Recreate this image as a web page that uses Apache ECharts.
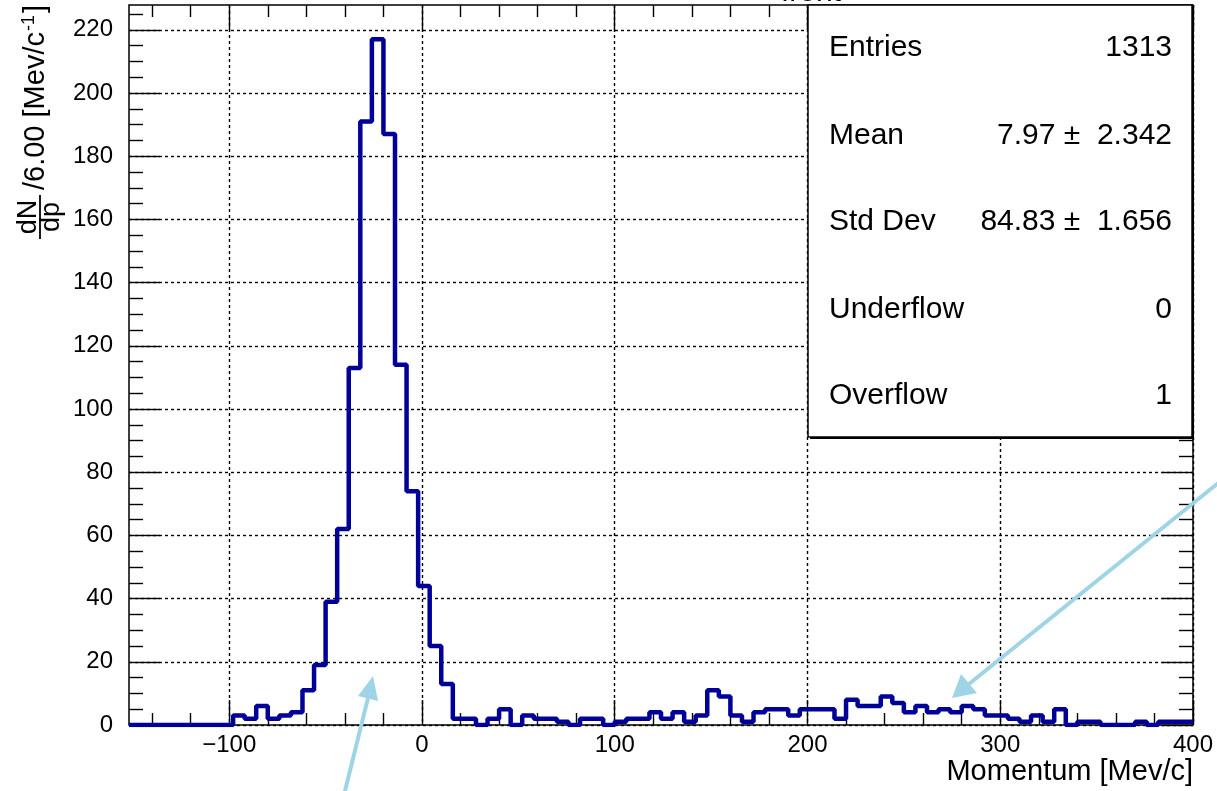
<!DOCTYPE html>
<html><head><meta charset="utf-8">
<script src="https://cdn.jsdelivr.net/npm/echarts@6.0.0/dist/echarts.min.js"></script>
<style>html,body{margin:0;padding:0;background:#fff}#c{width:1217px;height:791px}</style>
</head><body><div id="c"></div>
<script>
// Histogram binning (ROOT TH1): 92 bins of 6 MeV/c from -152 to 400
const X_MIN = -152;
const X_MAX = 400;
const BIN_WIDTH = 6;
const Y_MAX = 227.85;

// bin contents, left to right
const counts = [
  0,0,0,0,0,0,0,0,0,
  3,2,6,2,3,4,11,19,
  39,62,113,191,217,187,114,74,44,25,13,
  2,2,0,2,5,0,3,2,2,1,0,2,2,0,
  1,2,2,4,2,4,1,3,11,9,3,1,4,5,5,3,5,5,5,2,
  8,6,6,9,7,4,6,4,5,4,6,5,3,3,
  2,1,3,1,5,0,1,1,0,0,0,1,0,1,1,1
];

const xMajorTicks = [-100, 0, 100, 200, 300, 400];
const xMinorTicks = [-140,-120,-80,-60,-40,-20,20,40,60,80,120,140,160,180,220,240,260,280,320,340,360,380];
const yMajorTicks = [0,20,40,60,80,100,120,140,160,180,200,220];
const yMinorTicks = [5,10,15,25,30,35,45,50,55,65,70,75,85,90,95,105,110,115,125,130,135,145,150,155,165,170,175,185,190,195,205,210,215,225];

const statLabels = ['Entries', 'Mean', 'Std Dev', 'Underflow', 'Overflow'];
const statValues = ['1313', '7.97 \u00b1  2.342', '84.83 \u00b1  1.656', '0', '1'];

const xTitle = 'Momentum [Mev/c]';
const histTitle = 'front';

// step line points: each bin's low edge, plus the final high edge
const stepData = counts.map((c, i) => [X_MIN + i * BIN_WIDTH, c]);
stepData.push([X_MAX, counts[counts.length - 1]]);

const FONT = "'Liberation Sans', Arial, Helvetica, sans-serif";
const fmt = v => (v < 0 ? '\u2212' + Math.abs(v) : String(v));
const gridLine = { show: true, lineStyle: { color: '#000', width: 1.4, type: [3, 3] } };

function xAx(pos, ticks, len, withLabels, withGrid) {
  return {
    type: 'value', min: X_MIN, max: X_MAX, position: pos,
    axisLine: { show: false, onZero: false },
    axisTick: { show: true, inside: true, length: len, customValues: ticks, lineStyle: { color: '#000', width: 1.4 } },
    axisLabel: withLabels ? { show: true, customValues: ticks, formatter: fmt, color: '#000', fontSize: 24, fontFamily: FONT, margin: 8 } : { show: false },
    splitLine: withGrid ? gridLine : { show: false },
    minorTick: { show: false }
  };
}
function yAx(pos, ticks, len, withLabels, withGrid) {
  return {
    type: 'value', min: 0, max: Y_MAX, interval: 20, position: pos,
    axisLine: { show: false, onZero: false },
    axisTick: { show: true, inside: true, length: len, customValues: ticks, lineStyle: { color: '#000', width: 1.4 } },
    axisLabel: withLabels ? { show: true, customValues: ticks, color: '#000', fontSize: 24, fontFamily: FONT, margin: 16 } : { show: false },
    splitLine: withGrid ? gridLine : { show: false },
    minorTick: { show: false }
  };
}

const chart = echarts.init(document.getElementById('c'), null, { renderer: 'canvas' });

const ARROW = '#9fd4e6';
const graphics = [];
// stats box with shadow
graphics.push({ type: 'rect', z: 100, shape: { x: 810, y: 7, width: 384, height: 432 }, style: { fill: '#000' } });
graphics.push({ type: 'rect', z: 101, shape: { x: 808, y: 5, width: 384, height: 432 }, style: { fill: '#fff', stroke: '#000', lineWidth: 1.5 } });
const rowY = [48, 136, 222, 310, 396];
statLabels.forEach((t, i) => {
  graphics.push({ type: 'text', z: 102, x: 829, y: rowY[i], style: { text: t, fill: '#000', font: '30px ' + FONT, align: 'left', verticalAlign: 'middle' } });
  graphics.push({ type: 'text', z: 102, x: 1172, y: rowY[i], style: { text: statValues[i], fill: '#000', font: '30px ' + FONT, align: 'right', verticalAlign: 'middle' } });
});
// x title
graphics.push({ type: 'text', z: 50, x: 1193, y: 772, style: { text: xTitle, fill: '#000', font: '29px ' + FONT, align: 'right', verticalAlign: 'middle' } });
// histogram title (cut off at top)
graphics.push({ type: 'text', z: 50, x: 811, y: 8, style: { text: histTitle, fill: '#000', font: '30px ' + FONT, align: 'center', verticalAlign: 'bottom' } });
// y title: dN/dp fraction, then /6.00 [Mev/c^-1]
const R = Math.PI / 2;
graphics.push({ type: 'text', z: 50, x: 29, y: 217, rotation: R, style: { text: 'dN', fill: '#000', font: '27px ' + FONT, align: 'center', verticalAlign: 'middle' } });
graphics.push({ type: 'line', z: 50, shape: { x1: 40, y1: 195, x2: 40, y2: 239 }, style: { stroke: '#000', lineWidth: 1.8 } });
graphics.push({ type: 'text', z: 50, x: 52, y: 217, rotation: R, style: { text: 'dp', fill: '#000', font: '27px ' + FONT, align: 'center', verticalAlign: 'middle' } });
graphics.push({ type: 'text', z: 50, x: 36, y: 190, rotation: R, style: { text: '/6.00 [Mev/c', fill: '#000', font: '29px ' + FONT, align: 'left', verticalAlign: 'middle' } });
graphics.push({ type: 'text', z: 50, x: 29, y: 31, rotation: R, style: { text: '-1', fill: '#000', font: '18px ' + FONT, align: 'left', verticalAlign: 'middle' } });
graphics.push({ type: 'text', z: 50, x: 36, y: 13, rotation: R, style: { text: ']', fill: '#000', font: '29px ' + FONT, align: 'left', verticalAlign: 'middle' } });
// annotation arrows
graphics.push({ type: 'line', z: 110, shape: { x1: 1222, y1: 480, x2: 969, y2: 684 }, style: { stroke: ARROW, lineWidth: 4 } });
graphics.push({ type: 'polygon', z: 110, shape: { points: [[952, 698], [977, 693], [961, 674]] }, style: { fill: ARROW } });
graphics.push({ type: 'line', z: 110, shape: { x1: 344, y1: 795, x2: 368, y2: 698 }, style: { stroke: ARROW, lineWidth: 4 } });
graphics.push({ type: 'polygon', z: 110, shape: { points: [[373, 676], [378, 701], [358, 696]] }, style: { fill: ARROW } });

chart.setOption({
  animation: false,
  backgroundColor: '#fff',
  grid: { left: 129, right: 24, top: 5, bottom: 66, show: true, borderColor: '#000', borderWidth: 1.5, backgroundColor: 'transparent' },
  xAxis: [
    xAx('bottom', xMajorTicks, 25, true, true),
    xAx('bottom', xMinorTicks, 12, false, false),
    xAx('top', xMajorTicks, 25, false, false),
    xAx('top', xMinorTicks, 12, false, false)
  ],
  yAxis: [
    yAx('left', yMajorTicks, 31, true, true),
    yAx('left', yMinorTicks, 14, false, false),
    yAx('right', yMajorTicks, 31, false, false),
    yAx('right', yMinorTicks, 14, false, false)
  ],
  series: [{
    type: 'line', xAxisIndex: 0, yAxisIndex: 0, step: 'end', data: stepData,
    showSymbol: false, symbol: 'none', z: 5,
    lineStyle: { color: '#000099', width: 4.5 }
  }],
  graphic: graphics
});
</script>
</body></html>
